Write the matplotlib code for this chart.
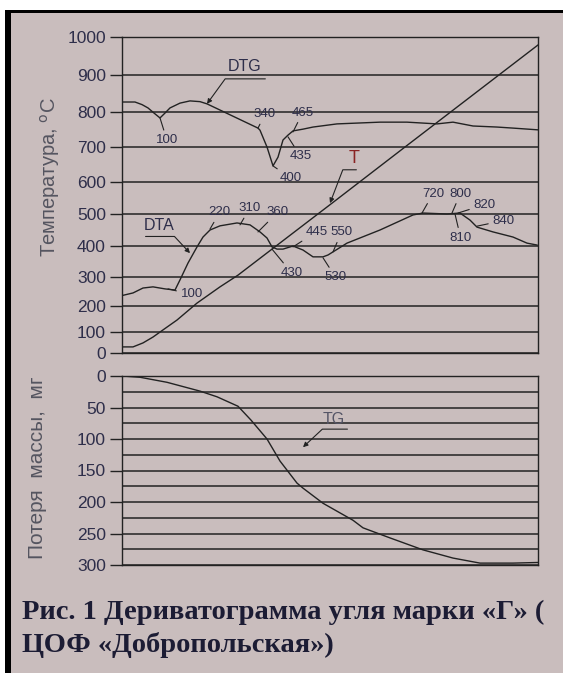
import numpy as np
import matplotlib
matplotlib.use("Agg")
import matplotlib.pyplot as plt
from matplotlib.patches import Rectangle

plt.rcParams["font.family"] = ["Liberation Sans", "DejaVu Sans"]

# position along the record (the original has no scale on this axis)
dtg_x = [0, 13, 20, 26, 32, 38, 43, 48, 58, 68, 78, 85, 136, 138, 145, 151, 156, 161, 166, 171,
         181, 191, 215, 258, 285, 315, 331, 351, 375, 391, 416]
dtg_y = [827, 827, 820, 811, 797, 783, 797, 811, 824, 830, 828, 822, 754, 748, 700, 646, 671, 720, 734, 746,
         751, 757, 766, 771, 771, 766, 771, 760, 757, 754, 749]

dta_x = [0, 11, 21, 31, 43, 53, 58, 66, 75, 81, 88, 98, 115, 128, 138, 145, 150, 155, 161,
         171, 181, 191, 201, 206, 211, 225, 258, 291, 301, 325, 338, 348, 355, 371, 391, 405, 415]
dta_y = [236, 245, 262, 266, 259, 255, 290, 345, 397, 428, 450, 463, 472, 466, 444, 425, 397, 390, 390,
         400, 387, 365, 365, 371, 381, 409, 450, 497, 503, 500, 503, 481, 459, 444, 428, 409, 403]

t_x = [0, 11, 21, 31, 41, 55, 75, 98, 116, 213, 283, 416]
t_y = [29, 29, 48, 76, 108, 146, 210, 266, 306, 541, 700, 979]

tg_x = [0, 18, 45, 78, 95, 116, 129, 145, 158, 175, 181, 201, 231, 241, 268, 301, 331, 358, 391, 416]
tg_y = [0, 2, 10, 24, 33, 48, 70, 100, 135, 170, 178, 202, 229, 241, 257, 276, 289, 297, 297, 296]

temp_ticks = np.arange(0, 1001, 100)
mass_ticks = np.arange(0, 301, 50)
mass_minor = np.arange(25, 300, 50)

# the printed temperature grid is unevenly spaced: height of each line above 0
temp_grid_h = [0, 21, 47, 76, 107, 139, 171, 206, 241, 278, 316]

# peak labels: text, point on curve, label offset in points
dtg_peaks = [("100", (38, 783), (5, -16)), ("340", (136, 754), (5, 10)),
             ("465", (171, 743), (7, 14)), ("435", (166, 729), (9, -14)),
             ("400", (151, 646), (13, -9))]
dta_peaks = [("100", (46, 259), (17, -4)), ("220", (88, 453), (7, 12)),
             ("310", (118, 466), (7, 12)), ("360", (136, 444), (14, 14)),
             ("445", (171, 397), (17, 11)), ("550", (211, 381), (6, 14)),
             ("430", (150, 390), (14, -17)), ("530", (201, 362), (9, -14)),
             ("720", (300, 503), (8, 14)), ("800", (330, 503), (6, 14)),
             ("820", (336, 503), (19, 6)), ("840", (355, 462), (19, 4)),
             ("810", (333, 500), (4, -17))]

ink = "#222222"
num_color = "#2e2e4a"
bg = "#c9bdbd"


def fwd(v):
    return np.interp(v, temp_ticks, temp_grid_h)


def inv(h):
    return np.interp(h, temp_grid_h, temp_ticks)


def callout(ax, label, tip, end, angle, text_off, size, color):
    ax.annotate("", xy=tip, xytext=end, textcoords="offset points",
                arrowprops=dict(arrowstyle="-|>", color=ink, lw=0.8, mutation_scale=7,
                                shrinkA=0, shrinkB=0,
                                connectionstyle=f"angle,angleA=0,angleB={angle},rad=0"))
    ax.annotate(label, xy=tip, xytext=text_off, textcoords="offset points",
                ha="center", va="center", fontsize=size, color=color)


def style_axis(ax):
    ax.set_facecolor(bg)
    ax.set_xlim(0, 416)
    ax.set_xticks([])
    for s in ax.spines.values():
        s.set_color(ink)
        s.set_linewidth(1.0)
    ax.tick_params(axis="y", which="major", length=8.6, width=1.0, color=ink, pad=3,
                   labelsize=12.5, labelcolor=num_color)
    ax.tick_params(axis="y", which="minor", length=0)
    ax.grid(True, axis="y", which="both", color=ink, lw=1.1)


fig = plt.figure(figsize=(5.63, 6.73), dpi=100)
fig.patch.set_facecolor("white")
fig.add_artist(Rectangle((11 / 563, 0), 1, 661 / 673, transform=fig.transFigure,
                         facecolor=bg, edgecolor="none", zorder=-5))
fig.add_artist(Rectangle((5 / 563, 660 / 673), 1, 3 / 673, transform=fig.transFigure,
                         facecolor="black", edgecolor="none"))
fig.add_artist(Rectangle((5 / 563, 0), 6 / 563, 663 / 673, transform=fig.transFigure,
                         facecolor="black", edgecolor="none"))

ax1 = fig.add_axes([122 / 563, 320 / 673, 416 / 563, 316 / 673])
ax2 = fig.add_axes([122 / 563, 108 / 673, 416 / 563, 189 / 673])

ax1.set_yscale("function", functions=(fwd, inv))
ax1.set_ylim(0, 1000)
ax1.set_yticks(temp_ticks)
ax1.set_yticks([], minor=True)
style_axis(ax1)

ax1.plot(dtg_x, dtg_y, color=ink, lw=1.0)
ax1.plot(dta_x, dta_y, color=ink, lw=1.0)
ax1.plot(t_x, t_y, color=ink, lw=1.0)

for label, pt, off in dtg_peaks + dta_peaks:
    ax1.annotate(label, xy=pt, xytext=off, textcoords="offset points", ha="center",
                 va="center", fontsize=9.5, color=num_color,
                 arrowprops=dict(arrowstyle="-", color=ink, lw=0.8, shrinkA=1, shrinkB=0))

callout(ax1, "DTG", (85, 822), (42, 18), 54, (27, 27), 11.5, num_color)
callout(ax1, "DTA", (68, 377), (-32, 12), -47, (-22, 20), 11.5, num_color)
callout(ax1, "T", (208, 534), (19, 24), 69, (17, 32), 13, "#8a2323")

ax2.set_ylim(300, 0)
ax2.set_yticks(mass_ticks)
ax2.set_yticks(mass_minor, minor=True)
style_axis(ax2)
ax2.plot(tg_x, tg_y, color=ink, lw=1.0)
callout(ax2, "TG", (181, 113), (32, 13), 43, (22, 20), 11.5, "#555566")

fig.text(50 / 563, 1 - 177 / 673, r"Температура, $^{\mathrm{o}}$C", rotation=90,
         ha="center", va="center", fontsize=14.5, color="#555560")
fig.text(38 / 563, 1 - 468 / 673, "Потеря  массы,  мг", rotation=90,
         ha="center", va="center", fontsize=15, color="#555560")

fig.text(22 / 563, 1 - 612 / 673, "Рис. 1 Дериватограмма угля марки «Г» (",
         family="Liberation Serif", weight="bold", fontsize=20.5, color="#1c1c34",
         ha="left", va="center")
fig.text(22 / 563, 1 - 645 / 673, "ЦОФ «Добропольская»)",
         family="Liberation Serif", weight="bold", fontsize=20.5, color="#1c1c34",
         ha="left", va="center")

fig.savefig("out.png", dpi=100, facecolor=fig.get_facecolor())
